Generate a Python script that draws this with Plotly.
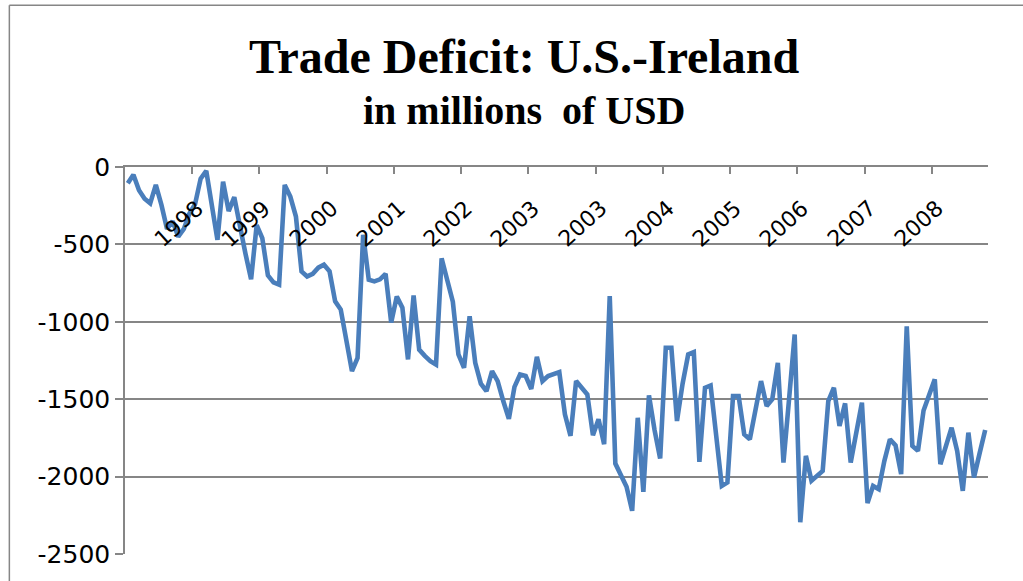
import plotly.graph_objects as go

# monthly U.S.-Ireland trade balance, millions of USD
deficit = [
    -105, -50, -150, -205, -235, -115, -245, -400, -350, -450, -400, -300,
    -240, -75, -25, -270, -470, -95, -285, -195, -385, -560, -725, -375,
    -460, -700, -745, -760, -116, -191, -320, -674, -707, -690, -650, -631,
    -674, -868, -921, -1120, -1319, -1233, -438, -728, -739, -726, -690, -1005,
    -836, -909, -1243, -830, -1180, -1220, -1254, -1276, -590, -730, -870, -1211,
    -1297, -964, -1265, -1400, -1448, -1319, -1383, -1512, -1627, -1420, -1340, -1350,
    -1434, -1226, -1383, -1351, -1337, -1325, -1598, -1737, -1383, -1430, -1469, -1733,
    -1630, -1791, -834, -1916, -2000, -2066, -2221, -1620, -2098, -1475, -1700, -1883,
    -1168, -1168, -1641, -1400, -1211, -1196, -1905, -1426, -1411, -1730, -2060, -2038,
    -1480, -1480, -1727, -1759, -1570, -1383, -1544, -1501, -1265, -1909, -1500, -1082,
    -2295, -1866, -2027, -1995, -1963, -1512, -1426, -1672, -1527, -1909, -1720, -1522,
    -2171, -2060, -2081, -1900, -1759, -1798, -1984, -1029, -1802, -1834, -1573, -1470,
    -1372, -1920, -1800, -1684, -1834, -2092, -1716, -2006, -1850, -1699,
]
year_labels = ["1998", "1999", "2000", "2001", "2002", "2003",
               "2003", "2004", "2005", "2006", "2007", "2008"]
months_per_tick = 12
y_ticks = [0, -500, -1000, -1500, -2000, -2500]
y_tick_text = ["0", "-500", "-1000", "-1500", "-2000", "-2500"]

n = len(deficit)
idx = list(range(n))
tick_pos = [k * months_per_tick - 0.5 for k in range(1, n // months_per_tick + 1)]

grid = "#868686"
blue = "#4A7EBB"

fig = go.Figure()
fig.add_trace(go.Scatter(
    x=idx, y=deficit, mode="lines",
    line=dict(color=blue, width=4.6),
    hoverinfo="y", showlegend=False,
))

# rotated year labels hanging under the zero line, like Excel does it
for k, lab in enumerate(year_labels):
    fig.add_annotation(
        x=tick_pos[k], y=0, xref="x", yref="y",
        text=lab, showarrow=False, textangle=-42,
        xanchor="right", yanchor="top", xshift=19, yshift=-26,
        font=dict(family="DejaVu Sans", size=22, color="black"),
    )

fig.add_annotation(
    x=0.462, y=1.285, xref="paper", yref="paper",
    text="<b>Trade Deficit: U.S.-Ireland</b>", showarrow=False,
    xanchor="center", yanchor="middle",
    font=dict(family="Liberation Serif", size=48, color="black"),
)
fig.add_annotation(
    x=0.462, y=1.147, xref="paper", yref="paper",
    text="<b>in millions  of USD</b>", showarrow=False,
    xanchor="center", yanchor="middle",
    font=dict(family="Liberation Serif", size=40, color="black"),
)

# chart-area border (top and left edges visible in the crop)
fig.add_shape(type="line", xref="paper", yref="paper",
              x0=-0.134, x1=1.06, y0=1.418, y1=1.418,
              line=dict(color=grid, width=1.5))
fig.add_shape(type="line", xref="paper", yref="paper",
              x0=-0.134, x1=-0.134, y0=-0.1, y1=1.418,
              line=dict(color=grid, width=1.5))

fig.update_layout(
    width=1023, height=581,
    margin=dict(l=125, r=35, t=167, b=25),
    paper_bgcolor="white", plot_bgcolor="white",
    font=dict(family="DejaVu Sans", color="black"),
)
fig.update_xaxes(
    range=[-0.5, n - 0.5], side="top",
    showgrid=False, zeroline=False,
    showline=True, linecolor=grid, linewidth=2,
    tickmode="array", tickvals=tick_pos, ticks="inside", ticklen=7,
    tickcolor=grid, tickwidth=1.5, showticklabels=False,
)
fig.update_yaxes(
    range=[-2500, 0], tickmode="array", tickvals=y_ticks, ticktext=y_tick_text,
    showgrid=True, gridcolor=grid, gridwidth=1.5, zeroline=False,
    showline=True, linecolor=grid, linewidth=1.5,
    ticks="outside", ticklen=8, tickcolor=grid, tickwidth=1.5,
    ticklabelstandoff=0,
    tickfont=dict(family="DejaVu Sans", size=25, color="black"),
)

# drop the default 8px page margin so the figure sits at the window origin
fig.write_html("out.html", config={"displayModeBar": False},
               post_script="document.body.style.margin = '0';")
